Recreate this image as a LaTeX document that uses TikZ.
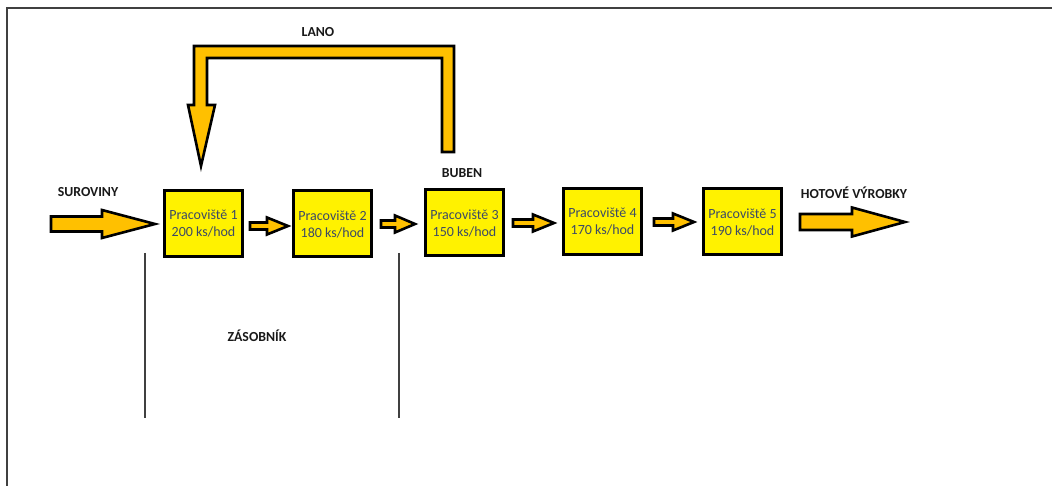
\documentclass[tikz,border=0pt]{standalone}
\usepackage{fontspec}
\setmainfont{Carlito}
\definecolor{boxyellow}{RGB}{255,242,0}
\definecolor{arrowgold}{RGB}{255,192,0}
\definecolor{boxtext}{RGB}{60,74,102}
\definecolor{framegray}{RGB}{64,64,64}
\tikzset{
  station/.style={draw=black, line width=3pt, fill=boxyellow, minimum width=78pt, minimum height=66pt,
    inner sep=0pt, align=center, text=boxtext, font=\fontsize{14}{17}\selectfont},
  blockarrow/.style={draw=black, line width=2.6pt, fill=arrowgold, line join=miter},
  lbl/.style={font=\fontsize{13.8}{15}\selectfont\bfseries, text=black!90, inner sep=0pt},
  sepline/.style={draw=framegray, line width=1.4pt},
}
% \barrow{x start}{x end}{y}{shaft half}{head half}{head length}
\newcommand\barrow[6]{%
  \draw[blockarrow] (#1,#3-#4) -- (#2-#6,#3-#4) -- (#2-#6,#3-#5) -- (#2,#3) -- (#2-#6,#3+#5)
    -- (#2-#6,#3+#4) -- (#1,#3+#4) -- cycle;}
\begin{document}
\begin{tikzpicture}[x=1pt, y=-1pt]
\useasboundingbox (0,0) rectangle (1052,486);
\fill[white] (0,0) rectangle (1052,486);
% frame
\draw[draw=framegray, line width=1.6pt] (7,486) -- (7,8) -- (1052,8);

% stations
\node[station] (p1) at (203.5,223.5) {Pracoviště 1\\200 ks/hod};
\node[station] (p2) at (332.5,224) {Pracoviště 2\\180 ks/hod};
\node[station] (p3) at (464.5,223) {Pracoviště 3\\150 ks/hod};
\node[station] (p4) at (602.5,221.5) {Pracoviště 4\\170 ks/hod};
\node[station] (p5) at (742.5,222) {Pracoviště 5\\190 ks/hod};

% block arrows
\barrow{51}{155}{224}{7.5}{14}{53}
\barrow{250}{288}{226}{3.5}{8.5}{21}
\barrow{381}{415}{224}{3.5}{8.5}{20}
\barrow{513}{554}{223}{3.5}{8.5}{21}
\barrow{654}{694}{222}{3.5}{8.5}{21}
\barrow{800}{905}{222}{8}{14.5}{53}

% rope arrow (LANO)
\draw[blockarrow] (454,152) -- (454,46) -- (194,46) -- (194,105) -- (188,105) -- (201,166)
  -- (215,105) -- (207,105) -- (207,58) -- (442,58) -- (442,152) -- cycle;

% buffer lines
\draw[sepline] (145,253) -- (145,418);
\draw[sepline] (399,253) -- (399,418);

% labels
\node[lbl] (lano) at (318,32) {LANO};
\node[lbl] (sur) at (88,192) {SUROVINY};
\node[lbl] (buben) at (462,173) {BUBEN};
\node[lbl] (hot) at (854,193) {HOTOVÉ VÝROBKY};
\node[lbl] (zas) at (257,336) {ZÁSOBNÍK};
\end{tikzpicture}
\end{document}
